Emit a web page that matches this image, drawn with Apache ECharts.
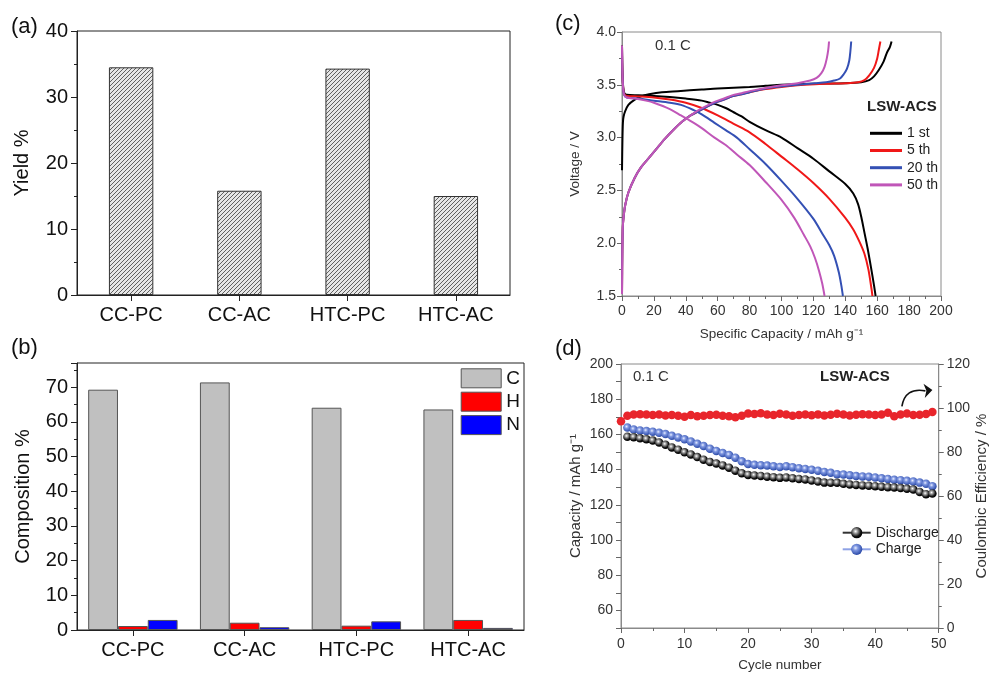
<!DOCTYPE html>
<html>
<head>
<meta charset="utf-8">
<script src="https://cdn.jsdelivr.net/npm/echarts@6/dist/echarts.min.js"></script>
<style>
html,body{margin:0;padding:0;background:#fff;}
#chart{width:990px;height:673px;}
</style>
</head>
<body>
<div id="chart"></div>
<script>
// ---------- data ----------
const yieldCats = ['CC-PC', 'CC-AC', 'HTC-PC', 'HTC-AC'];
const yieldVals = [34.5, 15.8, 34.3, 15.0];

const compCats = ['CC-PC', 'CC-AC', 'HTC-PC', 'HTC-AC'];
const compC = [69.3, 71.4, 64.1, 63.6];
const compH = [1.15, 2.1, 1.25, 2.9];
const compN = [2.9, 0.8, 2.5, 0.6];

// panel (c): [specific capacity, voltage]
const charge1st = [[0,2.69],[0.3,3.0],[0.6,3.15],[1,3.2],[2,3.25],[4,3.31],[8,3.36],[12,3.39],[17,3.41],[25,3.43],[35,3.44],[50,3.455],[60,3.465],[80,3.48],[90,3.49],[100,3.5],[120,3.51],[140,3.515],[150,3.525],[155,3.545],[158,3.58],[161,3.64],[164,3.72],[166,3.8],[168,3.86],[169,3.91]];
const discharge1st = [[0,3.87],[0.3,3.6],[0.8,3.47],[1.5,3.42],[3,3.405],[10,3.40],[20,3.395],[30,3.385],[40,3.37],[50,3.35],[55,3.33],[60,3.31],[65,3.28],[70,3.24],[75,3.2],[80,3.15],[90,3.07],[100,3.0],[110,2.9],[120,2.8],[130,2.68],[140,2.56],[145,2.47],[148,2.37],[150,2.25],[152,2.1],[154,1.95],[156,1.78],[158,1.6],[159,1.5]];
const charge5th = [[0,1.52],[0.2,1.9],[0.5,2.15],[1,2.25],[2,2.36],[4,2.48],[8,2.62],[12,2.72],[17,2.81],[22,2.9],[27,2.99],[32,3.07],[37.6,3.15],[43,3.21],[48,3.25],[53,3.29],[58.4,3.33],[64,3.36],[69,3.39],[75,3.41],[80,3.43],[90,3.46],[100,3.48],[110,3.495],[121,3.505],[130,3.51],[140,3.515],[148,3.525],[152,3.545],[155,3.59],[158,3.66],[160,3.75],[161,3.83],[162,3.91]];
const discharge5th = [[0,3.87],[0.3,3.6],[0.8,3.46],[1.5,3.41],[3,3.395],[10,3.39],[20,3.38],[30,3.36],[40,3.33],[50,3.28],[60,3.21],[70,3.13],[80,3.05],[90,2.94],[100,2.82],[110,2.70],[120,2.57],[130,2.42],[140,2.24],[145,2.13],[149,2.01],[152,1.9],[154.5,1.75],[156.5,1.56],[157,1.5]];
const charge20th = [[0,1.52],[0.2,1.9],[0.5,2.15],[1,2.25],[2,2.36],[4,2.48],[8,2.62],[12,2.72],[17,2.81],[22,2.9],[27,2.99],[32,3.07],[37.6,3.15],[43,3.21],[48,3.25],[53,3.29],[58.4,3.33],[64,3.36],[69,3.39],[75,3.41],[80,3.43],[90,3.465],[100,3.485],[110,3.5],[121,3.515],[128,3.525],[133,3.54],[136.7,3.56],[139,3.6],[141,3.65],[142.5,3.73],[143.2,3.82],[143.7,3.91]];
const discharge20th = [[0,3.87],[0.3,3.6],[0.8,3.45],[1.5,3.40],[3,3.38],[10,3.37],[20,3.35],[30,3.33],[37,3.31],[45,3.26],[50,3.22],[58,3.14],[65,3.07],[72,3.0],[80,2.89],[90,2.75],[100,2.59],[110,2.42],[120,2.23],[126,2.08],[130,1.98],[133,1.88],[136,1.72],[137.5,1.6],[138.5,1.5]];
const charge50th = [[0,1.52],[0.2,1.9],[0.5,2.15],[1,2.25],[2,2.36],[4,2.48],[8,2.62],[12,2.72],[17,2.81],[22,2.9],[27,2.99],[32,3.07],[37.6,3.15],[43,3.21],[48,3.26],[53,3.3],[58.4,3.34],[64,3.37],[69,3.4],[75,3.42],[80,3.44],[90,3.47],[100,3.495],[110,3.515],[118,3.54],[122,3.565],[125,3.61],[127,3.67],[128.4,3.75],[129.3,3.83],[129.8,3.91]];
const discharge50th = [[0,3.87],[0.3,3.6],[0.8,3.45],[1.5,3.40],[3,3.38],[8,3.37],[15,3.35],[20,3.33],[30,3.27],[37,3.21],[45,3.14],[50,3.09],[58,3.0],[65,2.93],[72,2.84],[80,2.74],[90,2.58],[100,2.41],[108,2.24],[114,2.08],[118,1.97],[121,1.86],[123.5,1.74],[125.5,1.62],[127,1.5]];

// panel (d): cycles 1..49 capacities, cycles 0..49 coulombic efficiency
const dischargeCap = [158.6,158.4,157.8,157.3,156.5,155.4,154.1,152.6,151.3,149.8,148.6,147.1,145.6,144.3,143.4,142.4,141.1,139.4,137.9,137.0,136.6,136.4,136.0,135.7,135.3,135.5,135.1,134.7,134.4,133.8,133.2,132.6,132.5,132.5,131.9,131.5,131.3,131.0,130.8,130.6,130.2,130.0,129.8,129.5,129.1,128.7,127.3,126.0,126.4];
const chargeCap = [163.9,162.8,162.2,161.9,161.5,160.9,160.2,159.2,158.3,157.2,156.0,154.7,153.4,151.9,150.6,149.4,148.3,146.8,144.7,143.2,142.7,142.5,142.3,141.9,141.5,141.9,141.4,140.8,140.4,139.9,139.3,138.7,138.2,137.4,137.2,136.8,136.4,136.1,135.9,135.5,135.1,134.7,134.2,134.0,133.6,133.2,132.6,131.9,130.6];
const coulombicEff = [94.0,96.5,97.0,97.2,97.0,96.8,97.0,96.6,96.8,96.5,96.0,96.8,96.3,96.5,96.8,96.9,96.5,96.3,95.8,96.5,97.5,97.3,97.6,97.0,96.8,97.4,97.0,96.5,96.8,97.0,96.7,97.1,96.6,96.9,97.4,97.0,96.6,96.9,97.2,97.0,96.8,97.0,97.8,96.3,97.0,97.5,96.8,96.9,97.3,98.2];

const cycleLegend = ['1 st', '5 th', '20 th', '50 th'];

// ---------- styles ----------
const FONT = 'Liberation Sans, Arial, sans-serif';

function hatchPattern() {
  const c = document.createElement('canvas');
  c.width = 4; c.height = 4;
  const g = c.getContext('2d');
  g.fillStyle = '#e6e6e6';
  g.fillRect(0, 0, 4, 4);
  g.strokeStyle = '#505050';
  g.lineWidth = 0.9;
  g.beginPath();
  g.moveTo(0, 4); g.lineTo(4, 0);
  g.moveTo(-1, 1); g.lineTo(1, -1);
  g.moveTo(3, 5); g.lineTo(5, 3);
  g.stroke();
  return c;
}

const blackBall = {type:'radial', x:0.4, y:0.38, r:0.62, colorStops:[{offset:0,color:'#ffffff'},{offset:0.3,color:'#9a9a9a'},{offset:0.75,color:'#111'},{offset:1,color:'#000'}]};
const blueBall = {type:'radial', x:0.4, y:0.38, r:0.62, colorStops:[{offset:0,color:'#e8eeff'},{offset:0.35,color:'#7e96e0'},{offset:1,color:'#2b4aa8'}]};

const darkAxis = {
  axisLine:{show:true, lineStyle:{color:'#222', width:1}},
  axisTick:{show:true, length:6, lineStyle:{color:'#222'}},
  minorTick:{show:true, splitNumber:2, length:3, lineStyle:{color:'#222'}},
  splitLine:{show:false},
  axisLabel:{fontFamily:FONT, fontSize:20, color:'#111', margin:9},
  nameTextStyle:{fontFamily:FONT, fontSize:20, color:'#111'}
};
const greyAxis = {
  axisLine:{show:true, lineStyle:{color:'#8a8a8a', width:1}},
  axisTick:{show:true, length:5, lineStyle:{color:'#666'}},
  minorTick:{show:true, splitNumber:2, length:3, lineStyle:{color:'#666'}},
  splitLine:{show:false},
  axisLabel:{fontFamily:FONT, fontSize:14, color:'#333', margin:7},
  nameTextStyle:{fontFamily:FONT, fontSize:13.5, color:'#333'}
};
function ax(base, extra) {
  const o = JSON.parse(JSON.stringify(base));
  for (const k in extra) {
    if (typeof extra[k] === 'object' && extra[k] !== null && !Array.isArray(extra[k]) && o[k]) Object.assign(o[k], extra[k]);
    else o[k] = extra[k];
  }
  return o;
}

function curve(name, data, color) {
  return {type:'line', name:name, xAxisIndex:2, yAxisIndex:2, data:data, symbol:'none', smooth:0.3,
    lineStyle:{color:color, width:2}, itemStyle:{color:color}, z:3};
}

const chart = echarts.init(document.getElementById('chart'), null, {renderer:'canvas'});

const option = {
  animation:false,
  backgroundColor:'#fff',
  grid:[
    {left:77, top:31, width:433, height:264, show:true, borderColor:'#222', borderWidth:1, backgroundColor:'transparent'},
    {left:77, top:363, width:447, height:267, show:true, borderColor:'#222', borderWidth:1, backgroundColor:'transparent'},
    {left:622, top:32, width:319, height:264, show:true, borderColor:'#8a8a8a', borderWidth:1, backgroundColor:'transparent'},
    {left:621, top:364, width:321, height:266, show:true, borderColor:'#8a8a8a', borderWidth:1, backgroundColor:'transparent'}
  ],
  xAxis:[
    ax(darkAxis, {type:'category', gridIndex:0, data:yieldCats, axisTick:{alignWithLabel:true}, minorTick:{show:false}, axisLabel:{margin:10}}),
    ax(darkAxis, {type:'category', gridIndex:1, data:compCats, axisTick:{alignWithLabel:true}, minorTick:{show:false}, axisLabel:{margin:10}}),
    ax(greyAxis, {type:'value', gridIndex:2, min:0, max:200, interval:20, axisLabel:{margin:8},
      name:'Specific Capacity / mAh g⁻¹', nameLocation:'middle', nameGap:31}),
    ax(greyAxis, {type:'value', gridIndex:3, min:0, max:50, interval:10, axisLabel:{margin:9},
      name:'Cycle number', nameLocation:'middle', nameGap:30})
  ],
  yAxis:[
    ax(darkAxis, {type:'value', gridIndex:0, min:0, max:40, interval:10, name:'Yield %', nameLocation:'middle', nameRotate:90, nameGap:45}),
    ax(darkAxis, {type:'value', gridIndex:1, min:0, max:77, interval:10, name:'Composition %', nameLocation:'middle', nameRotate:90, nameGap:44, axisLabel:{showMaxLabel:false}}),
    ax(greyAxis, {type:'value', gridIndex:2, min:1.5, max:4.0, interval:0.5, name:'Voltage / V', nameLocation:'middle', nameRotate:90, nameGap:40,
      axisLabel:{margin:6, formatter:function(v){return v.toFixed(1);}}}),
    ax(greyAxis, {type:'value', gridIndex:3, min:50, max:200, interval:10, minorTick:{show:false}, name:'Capacity / mAh g⁻¹', nameLocation:'middle', nameRotate:90, nameGap:38,
      axisLabel:{margin:8, formatter:function(v){return v % 20 === 0 ? String(v) : '';}}, nameTextStyle:{fontSize:15}}),
    ax(greyAxis, {type:'value', gridIndex:3, position:'right', min:0, max:120, interval:20, name:'Coulombic Efficiency / %', nameLocation:'middle', nameRotate:90, nameGap:34,
      axisLabel:{margin:8}, nameTextStyle:{fontSize:15}})
  ],
  legend:[
    {data:['C','H','N'], orient:'vertical', left:460.7, top:368.3, itemWidth:40, itemHeight:19, itemGap:3.4, icon:'rect',
      textStyle:{fontFamily:FONT, fontSize:19, color:'#111'}, itemStyle:{borderColor:'#555', borderWidth:1}, padding:0, selectedMode:false},
    {data:cycleLegend.map(function(n){return {name:n, icon:'rect'};}), orient:'vertical', left:870, top:126.3, itemWidth:32, itemHeight:3, itemGap:3.2,
      textStyle:{fontFamily:FONT, fontSize:14, color:'#222'}, padding:0, selectedMode:false},
    {data:['Discharge','Charge'], orient:'vertical', left:841.7, top:525.7, itemWidth:28, itemHeight:14, itemGap:2.6,
      textStyle:{fontFamily:FONT, fontSize:14, color:'#222'}, padding:0, selectedMode:false}
  ],
  series:[
    {type:'bar', name:'Yield', xAxisIndex:0, yAxisIndex:0, data:yieldVals, barWidth:'41%',
      itemStyle:{color:{image:hatchPattern(), repeat:'repeat'}, borderColor:'#333', borderWidth:1}},
    {type:'bar', name:'C', xAxisIndex:1, yAxisIndex:1, data:compC, barGap:'0%', barCategoryGap:'20%',
      itemStyle:{color:'#c0c0c0', borderColor:'#555', borderWidth:1}},
    {type:'bar', name:'H', xAxisIndex:1, yAxisIndex:1, data:compH, barGap:'0%', barCategoryGap:'20%',
      itemStyle:{color:'#ff0000', borderColor:'#555', borderWidth:1}},
    {type:'bar', name:'N', xAxisIndex:1, yAxisIndex:1, data:compN, barGap:'0%', barCategoryGap:'20%',
      itemStyle:{color:'#0000ff', borderColor:'#555', borderWidth:1}},
    curve('1 st', charge1st, '#000000'),
    curve('1 st', discharge1st, '#000000'),
    curve('5 th', charge5th, '#f01818'),
    curve('5 th', discharge5th, '#f01818'),
    curve('20 th', charge20th, '#3450b4'),
    curve('20 th', discharge20th, '#3450b4'),
    curve('50 th', charge50th, '#c056b8'),
    curve('50 th', discharge50th, '#c056b8'),
    {type:'line', name:'CE', xAxisIndex:3, yAxisIndex:4, data:coulombicEff.map(function(v,i){return [i, v];}),
      symbol:'circle', symbolSize:8.5, itemStyle:{color:'#e8252b'}, lineStyle:{color:'#e8252b', width:1}, z:3},
    {type:'line', name:'Charge', xAxisIndex:3, yAxisIndex:3, data:chargeCap.map(function(v,i){return [i+1, v];}),
      symbol:'circle', symbolSize:8.5, itemStyle:{color:blueBall}, lineStyle:{color:'#8ea2e6', width:1}, z:4},
    {type:'line', name:'Discharge', xAxisIndex:3, yAxisIndex:3, data:dischargeCap.map(function(v,i){return [i+1, v];}),
      symbol:'circle', symbolSize:8.5, itemStyle:{color:blackBall}, lineStyle:{color:'#333', width:1}, z:5}
  ]
};
chart.setOption(option);

// annotations (texts + arrow), arrow placed through the axes of panel (d)
const p = function(x, y){ return chart.convertToPixel({xAxisIndex:3, yAxisIndex:4}, [x, y]); };
const a0 = p(44.2, 100.7), ac = p(44.7, 109.5), a1 = p(47.9, 107.8);
const tip = p(49.0, 108.2), hb1 = p(47.6, 111.0), hb2 = p(47.8, 104.6);

function label(text, x, y, size, bold, color) {
  return {type:'text', x:x, y:y, silent:true, z:10,
    style:{text:text, fontFamily:FONT, fontSize:size, fontWeight:bold ? 'bold' : 'normal', fill:color || '#111', verticalAlign:'middle', align:'left'}};
}
chart.setOption({
  graphic:[
    label('(a)', 11, 27, 22, false, '#111'),
    label('(b)', 11, 348, 22, false, '#111'),
    label('(c)', 555, 24, 22, false, '#111'),
    label('(d)', 555, 349, 22, false, '#111'),
    label('0.1 C', 655, 46, 15, false, '#333'),
    label('LSW-ACS', 867, 107, 15, true, '#222'),
    label('0.1 C', 633, 377, 15, false, '#333'),
    label('LSW-ACS', 820, 377, 15, true, '#222'),
    {type:'bezierCurve', silent:true, z:10, shape:{x1:a0[0], y1:a0[1], cpx1:ac[0], cpy1:ac[1], x2:a1[0], y2:a1[1]},
      style:{stroke:'#111', lineWidth:1.6, fill:null}},
    {type:'polygon', silent:true, z:10, shape:{points:[tip, hb1, [a1[0]+1, a1[1]], hb2]}, style:{fill:'#111'}}
  ]
});
</script>
</body>
</html>
